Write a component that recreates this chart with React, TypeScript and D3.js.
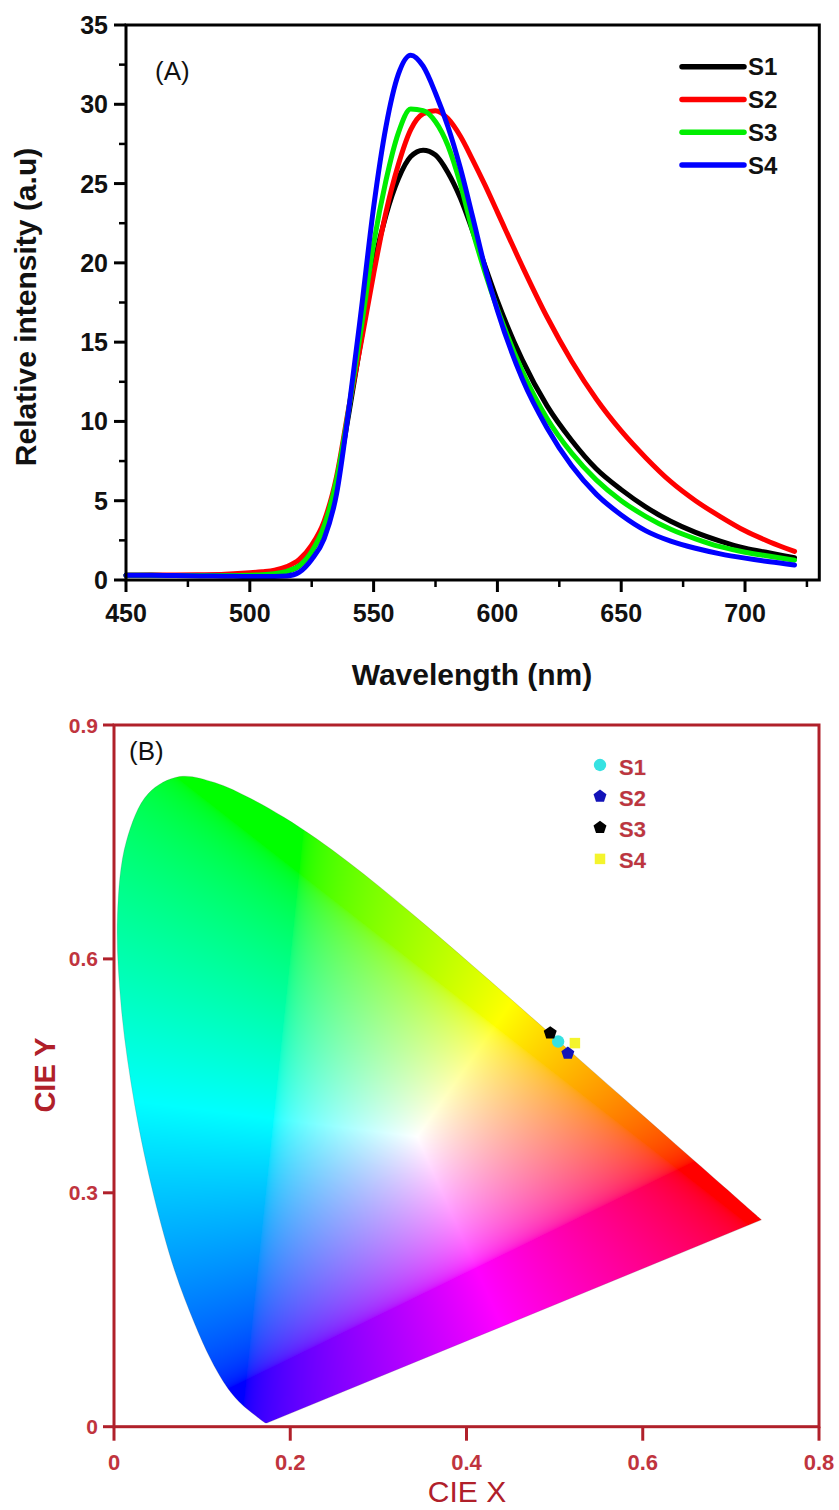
import React, { useEffect, useState } from 'react';
import * as d3 from 'd3';

// ---------- Panel A data ----------
const wavelengths = [450, 460, 470, 480, 490, 500, 505, 510, 515, 520, 525, 530, 535, 540, 545, 550, 555, 560, 565, 570, 575, 580, 585, 590, 595, 600, 610, 620, 630, 640, 650, 660, 670, 680, 690, 700, 710, 720];
const s1Values = [0.30, 0.30, 0.28, 0.28, 0.30, 0.32, 0.36, 0.42, 0.55, 0.9, 1.8, 3.4, 6.2, 10.5, 15.2, 19.8, 23.0, 25.3, 26.7, 27.1, 26.8, 25.7, 24.1, 22.0, 19.8, 17.6, 13.9, 11.0, 8.8, 7.0, 5.7, 4.6, 3.7, 3.0, 2.45, 2.0, 1.7, 1.4];
const s2Values = [0.30, 0.31, 0.32, 0.33, 0.36, 0.45, 0.52, 0.62, 0.85, 1.3, 2.2, 3.7, 6.5, 10.9, 15.0, 19.3, 23.2, 26.2, 28.4, 29.4, 29.6, 29.1, 28.0, 26.5, 24.9, 23.2, 19.8, 16.6, 13.8, 11.4, 9.4, 7.7, 6.2, 5.0, 4.0, 3.1, 2.4, 1.8];
const s3Values = [0.30, 0.30, 0.28, 0.28, 0.28, 0.30, 0.33, 0.40, 0.55, 0.9, 1.8, 3.4, 6.3, 10.8, 15.9, 21.2, 25.2, 28.2, 29.7, 29.6, 28.9, 27.4, 25.0, 22.0, 19.4, 17.1, 13.2, 10.2, 8.0, 6.3, 5.0, 4.0, 3.2, 2.6, 2.1, 1.75, 1.5, 1.25];
const s4Values = [0.30, 0.30, 0.28, 0.26, 0.24, 0.22, 0.22, 0.22, 0.25, 0.5, 1.3, 2.6, 5.4, 10.8, 17.0, 23.5, 28.6, 31.9, 33.1, 32.4, 30.7, 28.6, 26.0, 22.9, 19.7, 17.0, 12.7, 9.6, 7.2, 5.4, 4.1, 3.1, 2.45, 2.0, 1.65, 1.38, 1.15, 0.95];
const seriesNames = ['S1', 'S2', 'S3', 'S4'];
const seriesColors = ['#000000', '#ff0000', '#00ee00', '#0000ff'];
const xTicksA = [450, 500, 550, 600, 650, 700];
const xMinorA = [475, 525, 575, 625, 675, 725];
const yTicksA = [0, 5, 10, 15, 20, 25, 30, 35];
const yMinorA = [2.5, 7.5, 12.5, 17.5, 22.5, 27.5, 32.5];

// ---------- Panel B data ----------
const locusX = [0.1741, 0.1740, 0.1738, 0.1736, 0.1733, 0.1730, 0.1726, 0.1721, 0.1714, 0.1703, 0.1689, 0.1669, 0.1644, 0.1611, 0.1566, 0.1510, 0.1440, 0.1355, 0.1241, 0.1096, 0.0913, 0.0687, 0.0454, 0.0235, 0.0082, 0.0039, 0.0139, 0.0389, 0.0743, 0.1142, 0.1547, 0.1929, 0.2296, 0.2658, 0.3016, 0.3373, 0.3731, 0.4087, 0.4441, 0.4788, 0.5125, 0.5448, 0.5752, 0.6029, 0.6270, 0.6482, 0.6658, 0.6801, 0.6915, 0.7006, 0.7079, 0.7140, 0.7190, 0.7230, 0.7260, 0.7283, 0.7300, 0.7311, 0.7320, 0.7334, 0.7344, 0.7347];
const locusY = [0.0050, 0.0050, 0.0049, 0.0049, 0.0048, 0.0048, 0.0048, 0.0048, 0.0051, 0.0058, 0.0069, 0.0086, 0.0109, 0.0138, 0.0177, 0.0227, 0.0297, 0.0399, 0.0578, 0.0868, 0.1327, 0.2007, 0.2950, 0.4127, 0.5384, 0.6548, 0.7502, 0.8120, 0.8338, 0.8262, 0.8059, 0.7816, 0.7543, 0.7243, 0.6923, 0.6589, 0.6245, 0.5896, 0.5547, 0.5202, 0.4866, 0.4544, 0.4242, 0.3965, 0.3725, 0.3514, 0.3340, 0.3197, 0.3083, 0.2993, 0.2920, 0.2859, 0.2809, 0.2770, 0.2740, 0.2717, 0.2700, 0.2689, 0.2680, 0.2666, 0.2656, 0.2653];
const cieNames = ['S1', 'S2', 'S3', 'S4'];
const cieX = [0.504, 0.515, 0.495, 0.523];
const cieY = [0.494, 0.479, 0.505, 0.492];
const cieColors = ['#36e2e2', '#1212b8', '#000000', '#f4f42c'];
const cieShapes = ['circle', 'pentagon', 'pentagon', 'square'];
const cieDrawOrder = [3, 0, 1, 2];
const xTicksB = [0, 0.2, 0.4, 0.6, 0.8];
const yTicksB = [0, 0.3, 0.6, 0.9];

const FONT = "'Liberation Sans', Arial, Helvetica, sans-serif";
const AXIS_RED = '#b0202a';
const TEXT_RED = '#c0343e';

const pentagon = {
  draw(ctx: any, size: number) {
    const r = Math.sqrt(size / 2.378);
    for (let k = 0; k < 5; k++) {
      const a = -Math.PI / 2 + (k * 2 * Math.PI) / 5;
      const px = r * Math.cos(a);
      const py = r * Math.sin(a);
      if (k === 0) ctx.moveTo(px, py);
      else ctx.lineTo(px, py);
    }
    ctx.closePath();
  },
};

function toLinear(x: number, y: number) {
  const X = x / y;
  const Y = 1;
  const Z = (1 - x - y) / y;
  return [
    2.04137 * X - 0.56495 * Y - 0.34469 * Z,
    -0.96927 * X + 1.87601 * Y + 0.04156 * Z,
    0.01345 * X - 0.11839 * Y + 1.01541 * Z,
  ];
}

export default function App() {
  const [img, setImg] = useState<string>('');

  const xA = d3.scaleLinear().domain([450, 730]).range([126, 819.3]);
  const yA = d3.scaleLinear().domain([0, 35]).range([580, 25]);
  const xB = d3.scaleLinear().domain([0, 0.8]).range([114, 819]);
  const yB = d3.scaleLinear().domain([0, 0.9]).range([1426.7, 725]);

  const allSeries = [s1Values, s2Values, s3Values, s4Values];
  const lineA = d3
    .line<number>()
    .x((_, i) => xA(wavelengths[i]))
    .y((d) => yA(d))
    .curve(d3.curveMonotoneX);

  const locusPts: [number, number][] = locusX.map((lx, i) => [xB(lx), yB(locusY[i])]);
  const locusPath = (d3.line().curve(d3.curveCatmullRom.alpha(0.5))(locusPts) || '') + 'Z';

  const cx0 = 112, cy0 = 765, cw = 662, ch = 666;

  useEffect(() => {
    const canvas = document.createElement('canvas');
    canvas.width = cw;
    canvas.height = ch;
    const ctx = canvas.getContext('2d');
    if (!ctx) return;
    const im = ctx.createImageData(cw, ch);
    const w = toLinear(0.344, 0.372);
    const g = 1 / 2.2;
    for (let j = 0; j < ch; j++) {
      const y = yB.invert(cy0 + j + 0.5);
      for (let i = 0; i < cw; i++) {
        const x = xB.invert(cx0 + i + 0.5);
        const idx = (j * cw + i) * 4;
        if (y <= 0.002 || x < 0) {
          im.data[idx + 3] = 0;
          continue;
        }
        const lin = toLinear(x, y);
        let r = Math.max(0, lin[0] / w[0]);
        let gg = Math.max(0, lin[1] / w[1]);
        let b = Math.max(0, lin[2] / w[2]);
        const m = Math.max(r, gg, b) || 1;
        r = Math.pow(r / m, g);
        gg = Math.pow(gg / m, g);
        b = Math.pow(b / m, g);
        im.data[idx] = Math.round(r * 255);
        im.data[idx + 1] = Math.round(gg * 255);
        im.data[idx + 2] = Math.round(b * 255);
        im.data[idx + 3] = 255;
      }
    }
    ctx.putImageData(im, 0, 0);
    setImg(canvas.toDataURL());
  }, []);

  const symbolFor = (shape: string) => {
    const type = shape === 'circle' ? d3.symbolCircle : shape === 'square' ? d3.symbolSquare : (pentagon as any);
    return d3.symbol().type(type).size(shape === 'circle' ? 120 : 110)() || '';
  };

  return (
    <svg
      width={839}
      height={1510}
      style={{ position: 'absolute', left: 0, top: 0, display: 'block', background: '#fff' }}
      fontFamily={FONT}
    >
      <rect x={0} y={0} width={839} height={1510} fill="#fff" />

      {/* ---------------- Panel A ---------------- */}
      <g>
        {allSeries.map((vals, si) => (
          <path
            key={si}
            d={lineA(vals) || ''}
            fill="none"
            stroke={seriesColors[si]}
            strokeWidth={5}
            strokeLinejoin="round"
            strokeLinecap="round"
          />
        ))}
        <rect x={xA(450)} y={yA(35)} width={xA(730) - xA(450)} height={yA(0) - yA(35)} fill="none" stroke="#000" strokeWidth={3} />
        {xTicksA.map((t) => (
          <g key={'xa' + t}>
            <line x1={xA(t)} x2={xA(t)} y1={yA(0)} y2={yA(0) + 12} stroke="#000" strokeWidth={3} />
            <text x={xA(t)} y={622} textAnchor="middle" fontSize={25} fontWeight="bold" fill="#111">
              {t}
            </text>
          </g>
        ))}
        {xMinorA.map((t) => (
          <line key={'xm' + t} x1={xA(t)} x2={xA(t)} y1={yA(0)} y2={yA(0) + 7} stroke="#000" strokeWidth={2.5} />
        ))}
        {yTicksA.map((t) => (
          <g key={'ya' + t}>
            <line x1={xA(450) - 12} x2={xA(450)} y1={yA(t)} y2={yA(t)} stroke="#000" strokeWidth={3} />
            <text x={108} y={yA(t)} dy="0.36em" textAnchor="end" fontSize={25} fontWeight="bold" fill="#111">
              {t}
            </text>
          </g>
        ))}
        {yMinorA.map((t) => (
          <line key={'ym' + t} x1={xA(450) - 7} x2={xA(450)} y1={yA(t)} y2={yA(t)} stroke="#000" strokeWidth={2.5} />
        ))}
        <text x={472} y={685} textAnchor="middle" fontSize={30} fontWeight="bold" fill="#111">
          Wavelength (nm)
        </text>
        <text transform="translate(36,307) rotate(-90)" textAnchor="middle" fontSize={30} fontWeight="bold" fill="#111">
          Relative intensity (a.u)
        </text>
        <text x={155} y={80} fontSize={26} fill="#111">
          (A)
        </text>
        {seriesNames.map((n, i) => {
          const ly = 66.7 + i * 32.8;
          return (
            <g key={'la' + n}>
              <line x1={682} x2={744} y1={ly} y2={ly} stroke={seriesColors[i]} strokeWidth={5.5} strokeLinecap="round" />
              <text x={748} y={ly + 8.5} fontSize={24} fontWeight="bold" fill="#111">
                {n}
              </text>
            </g>
          );
        })}
      </g>

      {/* ---------------- Panel B ---------------- */}
      <g>
        <defs>
          <clipPath id="locusClip">
            <path d={locusPath} />
          </clipPath>
        </defs>
        {img && (
          <image href={img} x={cx0} y={cy0} width={cw} height={ch} clipPath="url(#locusClip)" preserveAspectRatio="none" />
        )}
        <path d={locusPath} fill="none" stroke="rgba(90,90,90,0.25)" strokeWidth={0.8} />

        {cieDrawOrder.map((i) => (
          <path
            key={'pt' + i}
            d={symbolFor(cieShapes[i])}
            transform={`translate(${xB(cieX[i])},${yB(cieY[i])})`}
            fill={cieColors[i]}
          />
        ))}

        <rect x={xB(0)} y={yB(0.9)} width={xB(0.8) - xB(0)} height={yB(0) - yB(0.9)} fill="none" stroke={AXIS_RED} strokeWidth={3} />
        {xTicksB.map((t) => (
          <g key={'xb' + t}>
            <line x1={xB(t)} x2={xB(t)} y1={yB(0)} y2={yB(0) + 14} stroke={AXIS_RED} strokeWidth={3} />
            <text x={xB(t)} y={1470} textAnchor="middle" fontSize={22} fontWeight="bold" fill={TEXT_RED}>
              {t === 0 ? '0' : t.toFixed(1)}
            </text>
          </g>
        ))}
        {yTicksB.map((t) => (
          <g key={'yb' + t}>
            <line x1={xB(0) - 11} x2={xB(0)} y1={yB(t)} y2={yB(t)} stroke={AXIS_RED} strokeWidth={3} />
            <text x={98} y={yB(t)} dy="0.36em" textAnchor="end" fontSize={21} fontWeight="bold" fill={TEXT_RED}>
              {t === 0 ? '0' : t.toFixed(1)}
            </text>
          </g>
        ))}
        <text x={467} y={1502} textAnchor="middle" fontSize={30} fill={AXIS_RED}>
          CIE X
        </text>
        <text transform="translate(55,1075) rotate(-90)" textAnchor="middle" fontSize={29} fontWeight="bold" fill={AXIS_RED}>
          CIE Y
        </text>
        <text x={129} y={760} fontSize={26} fill="#111">
          (B)
        </text>
        {cieNames.map((n, i) => {
          const ly = 765 + i * 31.3;
          return (
            <g key={'lb' + n}>
              <path d={symbolFor(cieShapes[i])} transform={`translate(600,${ly})`} fill={cieColors[i]} />
              <text x={619} y={ly + 9.5} fontSize={22} fontWeight="bold" fill={TEXT_RED} stroke="rgba(120,120,120,0.25)" strokeWidth={0.6}>
                {n}
              </text>
            </g>
          );
        })}
      </g>
    </svg>
  );
}
